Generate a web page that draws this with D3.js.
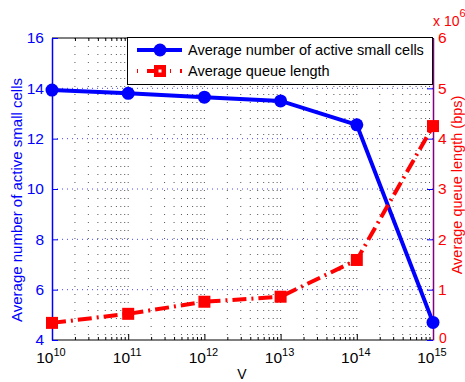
<!DOCTYPE html>
<html><head><meta charset="utf-8">
<script src="https://cdn.jsdelivr.net/npm/d3@7"></script>
<style>body{margin:0;background:#fff}svg{display:block;font-family:"Liberation Sans",Arial,sans-serif}</style>
</head><body><svg id="c" width="465" height="382"></svg>
<script>
const vExp = [10, 11, 12, 13, 14, 15];
const activeCells = [13.93, 13.8, 13.65, 13.5, 12.55, 4.7];
const queueLen = [0.34, 0.52, 0.76, 0.86, 1.59, 4.25]; // x 10^6 bps
const leftTicks = [4, 6, 8, 10, 12, 14, 16];
const rightTicks = [0, 1, 2, 3, 4, 5, 6];
const seriesNames = ["Average number of active small cells", "Average queue length"];

const svg = d3.select("#c");
const L = 52, R = 433, T = 38, B = 340;
const x = d3.scaleLog().domain([1e10, 1e15]).range([L, R]);
const yL = d3.scaleLinear().domain([4, 16]).range([B, T]);
const yR = d3.scaleLinear().domain([0, 6]).range([B, T]);
const isMajor = d => Math.abs(Math.log10(d) - Math.round(Math.log10(d))) < 1e-9;

// vertical grid
const allTicks = [];
for (let e = 10; e < 15; e++) for (let m = 1; m < 10; m++) allTicks.push(m * Math.pow(10, e));
allTicks.push(1e15);
svg.append("g").selectAll("line").data(allTicks.filter(d => d > 1e10 && d < 1e15)).join("line")
  .attr("x1", d => x(d)).attr("x2", d => x(d)).attr("y1", T).attr("y2", B)
  .attr("stroke", "#555").attr("stroke-width", 1).attr("stroke-dasharray", "1,7");
// horizontal grid
svg.append("g").selectAll("line").data(leftTicks.filter(d => d > 4 && d < 16)).join("line")
  .attr("x1", L).attr("x2", R).attr("y1", d => yL(d)).attr("y2", d => yL(d))
  .attr("stroke", "#4444ff").attr("stroke-width", 1).attr("stroke-dasharray", "1,4");

// frame
svg.append("line").attr("x1", L).attr("x2", R).attr("y1", T).attr("y2", T).attr("stroke", "#000");
svg.append("line").attr("x1", L).attr("x2", R).attr("y1", B).attr("y2", B).attr("stroke", "#000");

// bottom / top axis ticks
const gx = svg.append("g").attr("transform", `translate(0,${B})`)
  .call(d3.axisBottom(x).tickValues(allTicks).tickSizeInner(-4).tickSizeOuter(0).tickFormat(""));
gx.select(".domain").remove();
gx.selectAll(".tick line").attr("y2", d => isMajor(d) ? -6 : -3);
const gt = svg.append("g").attr("transform", `translate(0,${T})`)
  .call(d3.axisTop(x).tickValues(allTicks).tickSizeInner(-4).tickSizeOuter(0).tickFormat(""));
gt.select(".domain").remove();
gt.selectAll(".tick line").attr("y2", d => isMajor(d) ? 6 : 3);

const xl = svg.append("g").selectAll("text").data(vExp).join("text")
  .attr("x", d => x(Math.pow(10, d)) - 1).attr("y", 363).attr("text-anchor", "middle")
  .attr("font-size", 15.5).attr("fill", "#000");
xl.append("tspan").text("10");
xl.append("tspan").attr("dy", -7).attr("font-size", 11).text(d => d);
svg.append("text").attr("x", 242).attr("y", 379).attr("text-anchor", "middle").attr("font-size", 14).text("V");

// left axis
const gl = svg.append("g").attr("transform", `translate(${L},0)`)
  .call(d3.axisLeft(yL).tickValues(leftTicks).tickSizeInner(-6).tickSizeOuter(0).tickPadding(8).tickFormat(d3.format("d")));
gl.select(".domain").attr("stroke", "#0000ff").attr("stroke-width", 1.5);
gl.selectAll(".tick line").attr("stroke", "#0000ff");
gl.selectAll(".tick text").attr("fill", "#0000ff").attr("font-size", 15.5).attr("font-family", "Liberation Sans, Arial, sans-serif");
svg.append("text").attr("transform", `translate(22,200) rotate(-90)`)
  .attr("text-anchor", "middle").attr("font-size", 15).attr("fill", "#0000ff").text("Average number of active small cells");

// right axis
const gr = svg.append("g").attr("transform", `translate(${R},0)`)
  .call(d3.axisRight(yR).tickValues(rightTicks).tickSizeInner(-6).tickSizeOuter(0).tickPadding(5).tickFormat(d3.format("d")));
gr.select(".domain").attr("stroke", "#800080").attr("stroke-width", 1.5);
gr.selectAll(".tick line").attr("stroke", "#0000ff");
gr.selectAll(".tick text").attr("fill", "#ff0000").attr("font-size", 15.5).attr("font-family", "Liberation Sans, Arial, sans-serif")
  .attr("dy", "0.32em");
gr.selectAll(".tick").filter(d => d === 0).select("text").attr("x", 6).attr("dy", "0.2em").attr("font-size", 14);
svg.append("text").attr("transform", `translate(462,185) rotate(-90)`)
  .attr("text-anchor", "middle").attr("font-size", 14.5).attr("fill", "#ff0000").text("Average queue length (bps)");
const xm = svg.append("text").attr("x", 433).attr("y", 26).attr("font-size", 14).attr("fill", "#ff0000");
xm.append("tspan").text("x 10");
xm.append("tspan").attr("dy", -9).attr("font-size", 11).text("6");

// series
const blueLine = d3.line().x((d, i) => x(Math.pow(10, vExp[i]))).y(d => yL(d));
svg.append("path").attr("d", blueLine(activeCells)).attr("fill", "none").attr("stroke", "#0000ff").attr("stroke-width", 4);
svg.append("g").selectAll("circle").data(activeCells).join("circle")
  .attr("cx", (d, i) => x(Math.pow(10, vExp[i]))).attr("cy", d => yL(d)).attr("r", 6.5).attr("fill", "#0000ff");

const redLine = d3.line().x((d, i) => x(Math.pow(10, vExp[i]))).y(d => yR(d));
svg.append("path").attr("d", redLine(queueLen)).attr("fill", "none").attr("stroke", "#ff0000").attr("stroke-width", 4)
  .attr("stroke-dasharray", "14,5,2,5");
svg.append("g").selectAll("rect").data(queueLen).join("rect")
  .attr("x", (d, i) => x(Math.pow(10, vExp[i])) - 6).attr("y", d => yR(d) - 6).attr("width", 12).attr("height", 12).attr("fill", "#ff0000");

// legend
const lg = svg.append("g");
lg.append("rect").attr("x", 127.5).attr("y", 37.5).attr("width", 305).attr("height", 47).attr("fill", "#fff").attr("stroke", "#000");
lg.append("line").attr("x1", 137).attr("x2", 182).attr("y1", 50).attr("y2", 50).attr("stroke", "#0000ff").attr("stroke-width", 4);
lg.append("circle").attr("cx", 160).attr("cy", 50).attr("r", 6.5).attr("fill", "#0000ff");
lg.append("line").attr("x1", 137).attr("x2", 182).attr("y1", 71).attr("y2", 71).attr("stroke", "#ff0000").attr("stroke-width", 4).attr("stroke-dasharray", "1,9,14,9");
lg.append("rect").attr("x", 154).attr("y", 65).attr("width", 12).attr("height", 12).attr("fill", "#ff0000");
lg.append("rect").attr("x", 158.5).attr("y", 69.5).attr("width", 3).attr("height", 3).attr("fill", "#fff");
lg.selectAll("text.l").data(seriesNames).join("text").attr("class", "l")
  .attr("x", 188).attr("y", (d, i) => 55 + i * 21).attr("font-size", 14.5).attr("fill", "#000").text(d => d);
</script></body></html>
